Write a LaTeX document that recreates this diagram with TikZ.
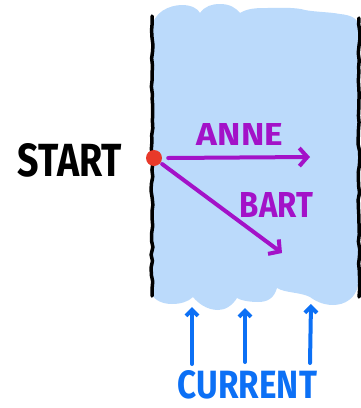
\documentclass[tikz,border=0pt]{standalone}
\usepackage{graphicx}
\usepackage{fontspec}
\setmainfont{Fira Sans}
\usetikzlibrary{arrows.meta,decorations.pathmorphing}
\definecolor{water}{RGB}{187,218,251}
\definecolor{lilac}{RGB}{163,18,200}
\definecolor{flow}{RGB}{12,112,245}
\definecolor{dotred}{RGB}{232,57,42}
\tikzset{
  bank/.style={draw=black,line width=3.5pt,line cap=round,decorate,decoration={random steps,segment length=7pt,amplitude=0.9pt}},
  parrow/.style={draw=lilac,line width=4pt,line cap=round,line join=round,-{Straight Barb[length=8pt,width=18pt]}},
  carrow/.style={draw=flow,line width=4pt,line cap=round,line join=round,-{Straight Barb[length=6pt,width=12pt]}},
  lbl/.style={inner sep=0pt,font=\bfseries},
  dotnode/.style={circle,fill=dotred,minimum size=16pt,inner sep=0pt}
}
\begin{document}
\begin{tikzpicture}[x=1pt,y=-1pt]
\useasboundingbox (0,0) rectangle (361,408);
% water
\fill[water] (152,30) .. controls (152,12) and (170,5) .. (182,5)
  .. controls (192,5) and (198,9) .. (200,13)
  .. controls (205,6) and (212,4) .. (220,4)
  .. controls (230,4) and (236,8) .. (240,13)
  .. controls (248,8) and (258,8) .. (267,8)
  .. controls (280,8) and (295,7) .. (305,10)
  .. controls (315,12) and (330,12) .. (340,14)
  .. controls (350,15) and (358,18) .. (358,25)
  -- (358,285)
  .. controls (356,298) and (345,305) .. (333,305)
  .. controls (322,305) and (314,300) .. (310,297)
  .. controls (300,292) and (285,293) .. (277,288)
  .. controls (274,298) and (268,302) .. (258,302)
  .. controls (248,302) and (240,300) .. (237,298)
  .. controls (232,306) and (225,310) .. (218,310)
  .. controls (206,310) and (197,302) .. (193,297)
  .. controls (188,302) and (180,304) .. (172,304)
  .. controls (162,304) and (155,300) .. (152,295) -- cycle;
% banks
\pgfmathsetseed{7}
\draw[bank] (152,16) -- (152,296);
\draw[bank] (359,18) -- (359,297);
% labels
\node[lbl] (start) at (70,160) {\resizebox{104pt}{33pt}{START}};
\node[lbl,text=lilac] (anne) at (240,134) {\resizebox{86pt}{22pt}{ANNE}};
\node[lbl,text=lilac] (bart) at (276.5,204.5) {\resizebox{73pt}{25pt}{BART}};
\node[lbl,text=flow] (current) at (247.5,385) {\resizebox{139pt}{28pt}{CURRENT}};
% start point
\node[dotnode] (s) at (154,158) {};
\coordinate (anneend) at (310,157);
\coordinate (bartend) at (282,253);
\draw[parrow] ([xshift=6pt]s.east) -- (anneend);
\draw[parrow,shorten <=2pt] (s) -- (bartend);
% current arrows
\coordinate (c1b) at (192,364); \coordinate (c1t) at (192,307);
\coordinate (c2b) at (245,362); \coordinate (c2t) at (245,308);
\coordinate (c3b) at (310,363); \coordinate (c3t) at (311,304);
\draw[carrow] (c1b) -- (c1t);
\draw[carrow] (c2b) -- (c2t);
\draw[carrow] (c3b) -- (c3t);
\end{tikzpicture}
\end{document}
